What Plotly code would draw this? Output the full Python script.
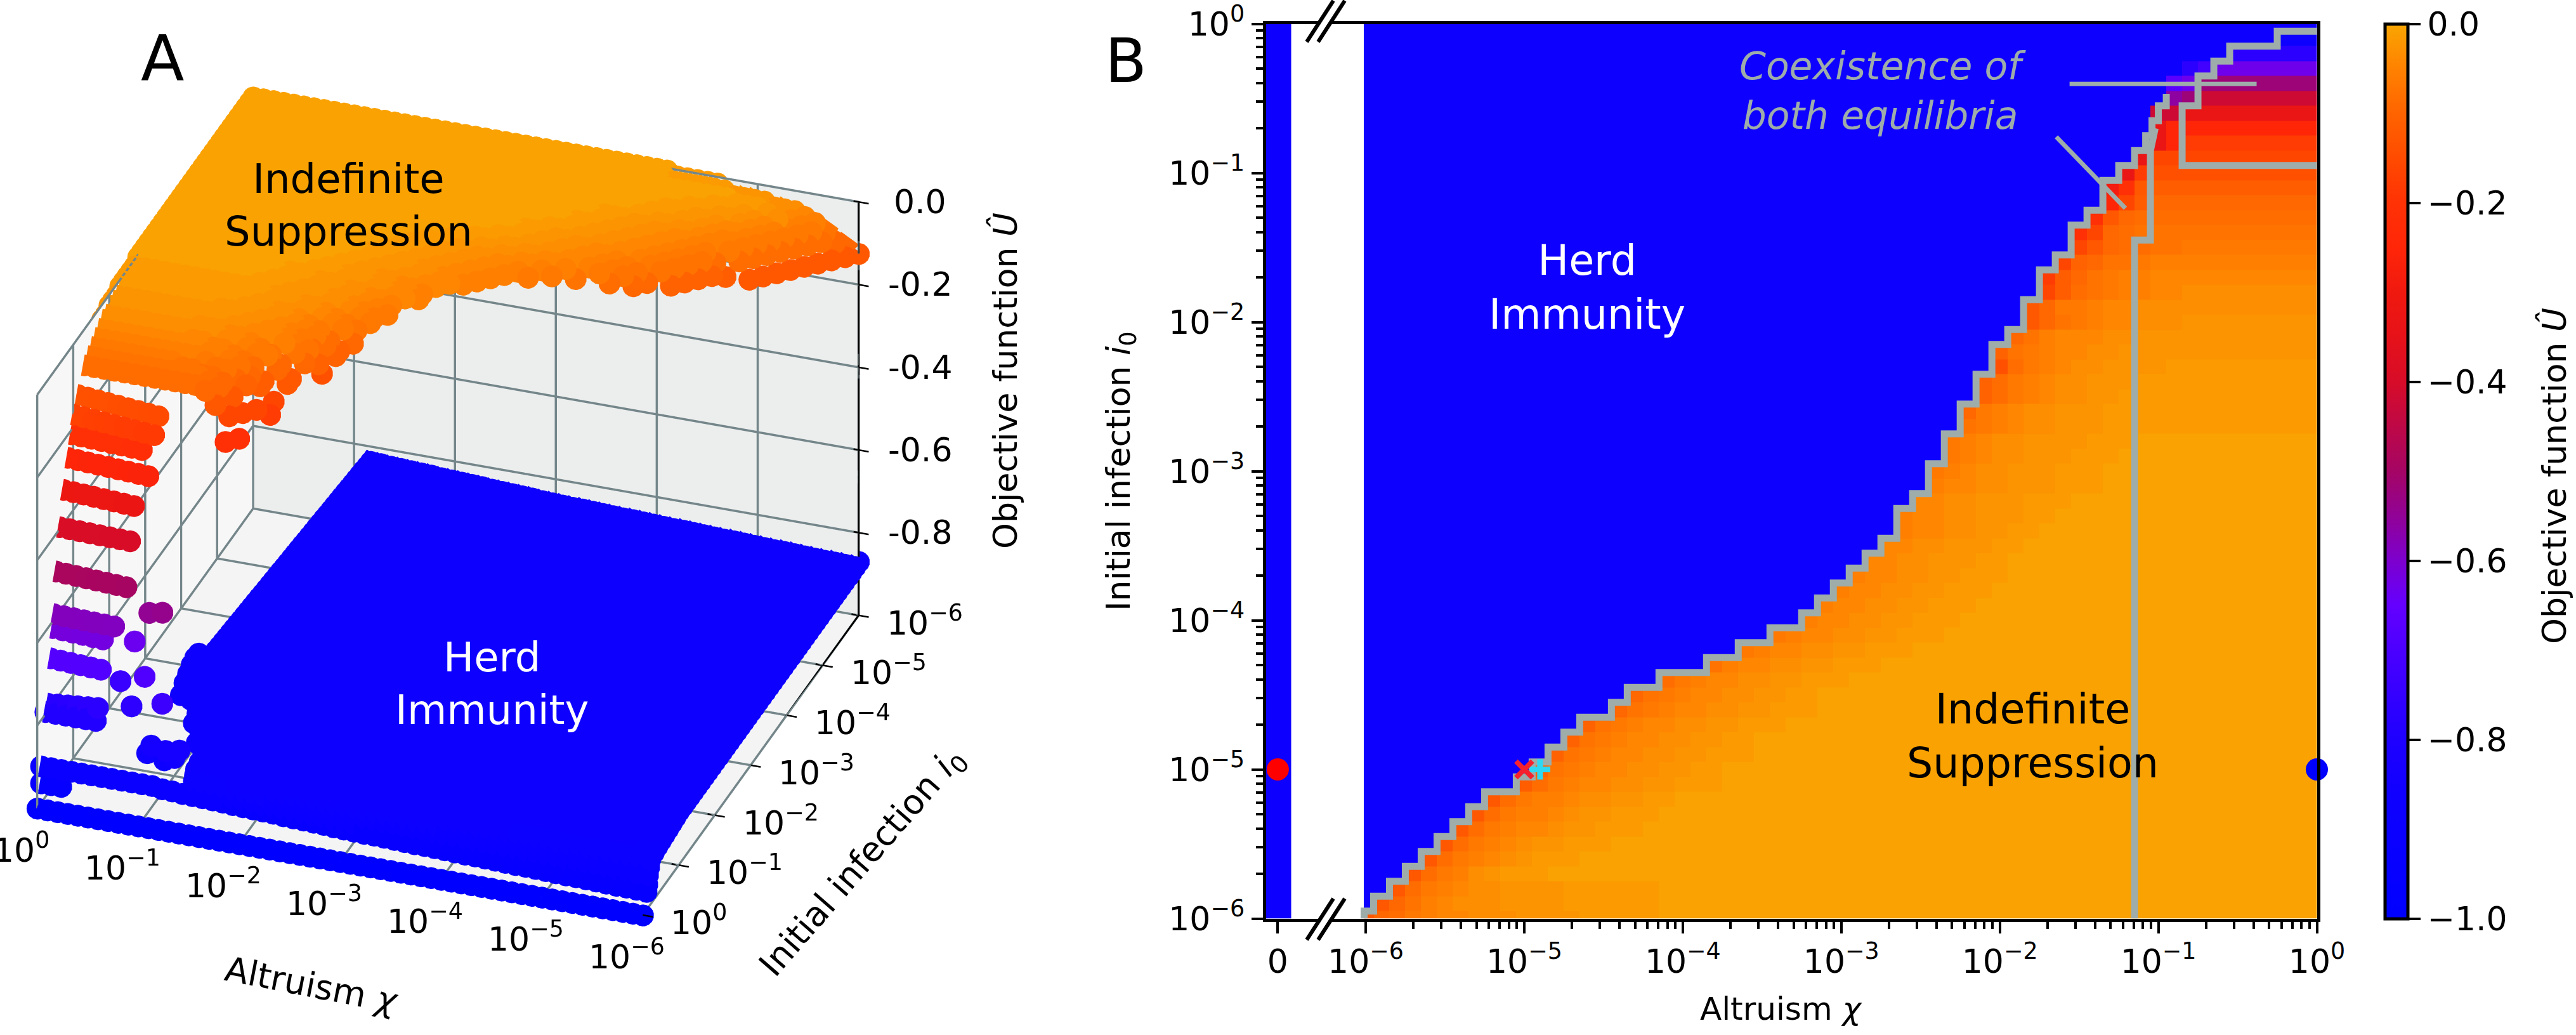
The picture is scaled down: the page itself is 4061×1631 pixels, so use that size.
import plotly.graph_objects as go

W, H = 4061, 1631
FONT = "DejaVu Sans"
GRID = "#74868a"
CONTOUR = "#9eacaa"

# Colour levels used by the objective-function table below.
LEVELS = {
    "0": -0.005, "1": -0.015, "2": -0.025, "3": -0.035, "4": -0.045, "5": -0.055,
    "6": -0.065, "7": -0.075, "8": -0.085, "9": -0.095, "a": -0.105, "b": -0.115,
    "c": -0.125, "d": -0.14, "e": -0.16, "f": -0.18, "g": -0.21, "h": -0.25,
    "i": -0.29, "j": -0.33, "k": -0.38, "l": -0.42, "m": -0.47, "n": -0.52,
    "o": -0.56, "p": -0.60, "q": -0.63, "r": -0.67, "s": -0.72, "t": -0.77,
    "u": -0.82, "#": -0.87,
}

# First column (altruism index, 0.1 decade steps) outside herd immunity, one per i0 row.
first_col = [0, 1, 2, 3, 4, 5, 6, 7, 8, 10, 11, 12, 13, 14, 16, 17, 19, 22, 24, 26, 28,
             29, 30, 31, 32, 33, 34, 34, 35, 36, 36, 37, 37, 38, 38, 39, 39, 40, 40, 41,
             42, 42, 43, 43, 44, 45, 45, 46, 47, 47, 48, 49, 50, 50, 50, 51, 51, 52, 55,
             58, 61]

# Levels from the boundary rightwards; the last code continues to the edge of the row.
row_codes = [
    "c98654433322221111100", "c97543332222111111000", "c86543322221111110", "c865321110",
    "c8654321110", "c86543221110",
    "c865443221110", "c8655432211100", "c8655433221100", "b8654433221110",
    "a765443322110", "a7654433221110", "a765443322110", "a76544332211100",
    "976544332211100", "97654433221100", "8654433221110", "7544332211100",
    "6544332211100", "6544332211100", "544332211100", "544332211100", "54433221110",
    "54433221110", "44332221100", "4433222110", "5443322110", "5443322211000",
    "44332221110", "544332221110", "6543322211100", "6543322211100", "6543322221110",
    "765433222111", "96543322211", "a8654332211", "a865433222111", "d86543322221",
    "a7654433222", "97544433222", "c97654433322", "c96654433333", "eb8765544333",
    "fb9765544444", "ea9776555555", "ec9887766666", "ge98777777", "gc9888888",
    "heb9999", "igcbbb", "jfdddd", "jeeee", "jhfff", "jhhhh", "lljjj", "onl", "rqn",
    "tsq", "t", "#", "#",
]

# Decade exponents.
decades = [-6, -5, -4, -3, -2, -1, 0]
minor_factors = [2, 3, 4, 5, 6, 7, 8, 9]
u_ticks = [-1.0, -0.8, -0.6, -0.4, -0.2, 0.0]
z_ticks = [-0.8, -0.6, -0.4, -0.2, 0.0]
z_tick_text = ["-0.8", "-0.6", "-0.4", "-0.2", "0.0"]

# Boundary of the suppression region, in grid indices (column, row).
edge_c = [-0.1, -0.1, .5, .5, 1.5, 1.5, 2.5, 2.5, 3.5, 3.5, 4.5, 4.5, 5.5, 5.5, 6.5, 6.5, 7.5, 7.5,
          9.5, 9.5, 10.5, 10.5, 11.5, 11.5, 12.5, 12.5, 13.5, 13.5, 15.5, 15.5, 16.5, 16.5, 18.5, 18.5,
          21.5, 21.5, 23.5, 23.5, 25.5, 25.5, 27.5, 27.5, 28.5, 28.5, 29.5, 29.5, 30.5, 30.5, 31.5, 31.5,
          32.5, 32.5, 33.5, 33.5, 34.5, 34.5, 35.5, 35.5, 36.5, 36.5, 37.5, 37.5, 38.5, 38.5, 39.5, 39.5,
          40.5, 40.5, 41.5, 41.5, 42.5, 42.5, 43.5, 43.5, 44.5, 44.5, 45.5, 45.5, 46.5, 46.5, 47.5, 47.5,
          48.5, 48.5, 49.2, 49.2, 49.6, 49.6, 50, 50, 50.5, 50.5]
edge_r = [0, .5, .5, 1.5, 1.5, 2.5, 2.5, 3.5, 3.5, 4.5, 4.5, 5.5, 5.5, 6.5, 6.5, 7.5, 7.5, 8.5,
          8.5, 9.5, 9.5, 10.5, 10.5, 11.5, 11.5, 12.5, 12.5, 13.5, 13.5, 14.5, 14.5, 15.5, 15.5, 16.5,
          16.5, 17.5, 17.5, 18.5, 18.5, 19.5, 19.5, 20.5, 20.5, 21.5, 21.5, 22.5, 22.5, 23.5, 23.5, 24.5,
          24.5, 25.5, 25.5, 27.5, 27.5, 28.5, 28.5, 30.5, 30.5, 32.5, 32.5, 34.5, 34.5, 36.5, 36.5, 38.5,
          38.5, 39.5, 39.5, 41.5, 41.5, 43.5, 43.5, 44.5, 44.5, 46.5, 46.5, 47.5, 47.5, 49.5, 49.5, 50.5,
          50.5, 51.5, 51.5, 52.5, 52.5, 53.5, 53.5, 54.5, 54.5, 55.3]
# Limit of the herd-immunity equilibrium.
herd_c = [48.5, 48.5, 49.5, 49.5, 49.8]
herd_r = [0, 45.5, 45.5, 51.5, 53.0]
# Limit of the suppressed equilibrium at large altruism.
supp_c = [60.2, 51.5, 51.5, 52.5, 52.5, 53.5, 53.5, 54.5, 54.5, 57.5, 57.5, 60.2]
supp_r = [50.5, 50.5, 54.5, 54.5, 56.5, 56.5, 57.5, 57.5, 58.5, 58.5, 59.5, 59.5]

# Leader lines of the coexistence note, as decade exponents.
leader_a_chi, leader_a_i0 = [-1.56, -0.38], [-0.403, -0.403]
leader_b_chi, leader_b_i0 = [-1.644, -1.208], [-0.758, -1.237]

# Equilibria marked in panel B, as decade exponents.
marker_i0 = -5.0
marker_cross_chi = -5.0
marker_plus_chi = -4.9

# Herd-immunity surface of panel A.
herd_level = -.87
herd_base = [-.87] * 51 + [-.872, -.874, -.876, -.878, -.88, -.882, -.885, -.89, -.955, -1.0]
herd_lift = [0, .001, .002, .002, .003, .004, .005, .006, .006, .007, .008, .009, .010, .010, .011,
             .012, .013, .014, .014, .015, .016, .017, .018, .018, .019, .020, .021, .022, .022,
             .023, .024, .025, .027, .028, .029, .030, .031, .033, .034, .035, .036, .037, .039,
             .040, .041, .042, .043, .045, .046, .050]
herd_gain = [1, 1.03, 1.06, 1.1, 1.13, 1.16, 1.19, 1.22, 1.26, 1.29, 1.32, 1.35, 1.38, 1.41, 1.45, 1.48,
             1.51, 1.54, 1.57, 1.6, 1.64, 1.67, 1.7, 1.73, 1.76, 1.79, 1.83, 1.86, 1.89, 1.92, 1.95,
             1.98, 2.02, 2.05, 2.08, 2.11, 2.14, 2.17, 2.21, 2.24, 2.27, 2.3, 2.33, 2.36, 2.4, 2.43, 2.46,
             2.5, 2.4, 2.2, 2.0, 1.7, 1.4, 1.2, 1.0, .9, .8, .6, .6, .9, 0]
herd_last = [48] * 46 + [49] * 6 + [47, 47, 46, 46, 45, 45, 45, 60, 60]

# Extra herd-immunity rows where the surface rolls down towards i0 = 1.
roll_i0 = [-.17, -.14, -.12]
roll_base = [-.905, -.92, -.94]
roll_gain = [.7, .8, .85]
roll_last = 45

# Rows of panel A at large initial infection: exponent of i0, height at chi=1,
# height at the far end of the row, and number of points.
seg_i0 = [-1.12, -1.0, -.94, -.84, -.72, -.61, -.51, -.45, -.42, -.36, -.28, -.22, -.1]
seg_z0 = [-.135, -.168, -.208, -.253, -.316, -.393, -.488, -.584, -.614, -.68, -.78, -.793, -.951]
seg_z1 = [-.152, -.183, -.216, -.263, -.325, -.397, -.496, -.588, -.62, -.686, -.769, -.793, -.951]
seg_n = [9, 9, 8, 9, 8, 8, 8, 7, 6, 6, 6, 6, 3]

# Isolated points of panel A near the end of those rows.
dot_chi = [-.93, -1.06, -.75, -.92, -.61, -.79, -1.13, -1.02, -.98, -1.15, -1.18, -1.3, -1.25]
dot_i0 = [-.5, -.5, -.6, -.4, -.6, -.4, -.3, -.3, -.3, -.3, -.25, -.3, -.3]
dot_z = [-.547, -.541, -.636, -.69, -.738, -.767, -.734, -.84, -.86, -.87, -.84, -.84, -.86]

colorscale_stops = [
    (-1.0, "rgb(0,0,255)"), (-.87, "rgb(14,0,255)"), (-.8, "rgb(30,0,255)"), (-.7, "rgb(75,0,255)"),
    (-.65, "rgb(100,0,255)"), (-.6, "rgb(125,0,205)"), (-.55, "rgb(145,2,150)"), (-.5, "rgb(165,5,100)"),
    (-.45, "rgb(190,8,70)"), (-.4, "rgb(215,12,40)"), (-.35, "rgb(230,18,25)"), (-.3, "rgb(240,25,15)"),
    (-.25, "rgb(255,38,8)"), (-.2, "rgb(255,50,5)"), (-.15, "rgb(255,75,0)"), (-.1, "rgb(255,100,0)"),
    (-.05, "rgb(255,130,0)"), (0.0, "rgb(249,166,2)"),
]
colorscale = [[(v + 1.0), c] for v, c in colorscale_stops]


def px(x):
    return x / W


def py(y):
    return 1 - y / H


# Objective function on the grid, rows from i0=1e-6 upward.
U = []
for f, codes in zip(first_col, row_codes):
    text = ("#" * f + codes).ljust(61, codes[-1])[:61]
    U.append([LEVELS[ch] for ch in text])

x_edges = [10 ** -6.012] + [10 ** (-5.95 + 0.1 * k) for k in range(60)] + [1.0]
y_edges = [1e-6] + [10 ** (-5.95 + 0.1 * k) for k in range(60)] + [1.0]

fig = go.Figure()

# ---- Panel B: the chi = 0 strip and the logarithmic part of the axis ----
fig.add_trace(go.Heatmap(x=[-0.905, 1.0], y=y_edges, z=[[herd_level]] * 61, coloraxis="coloraxis",
                         xaxis="x", yaxis="y", hoverinfo="skip"))
fig.add_trace(go.Heatmap(x=x_edges, y=y_edges, z=U, coloraxis="coloraxis",
                         xaxis="x2", yaxis="y2", hoverinfo="skip"))


def to_chi(cs):
    return [10 ** (-6 + 0.1 * c) for c in cs]


for cs, rs in [(edge_c, edge_r), (herd_c, herd_r), (supp_c, supp_r)]:
    fig.add_trace(go.Scatter(x=to_chi(cs), y=to_chi(rs), mode="lines", xaxis="x2", yaxis="y2",
                             line=dict(color=CONTOUR, width=11), hoverinfo="skip", showlegend=False))
for xs, ys in [(leader_a_chi, leader_a_i0), (leader_b_chi, leader_b_i0)]:
    fig.add_trace(go.Scatter(x=[10 ** v for v in xs], y=[10 ** v for v in ys], mode="lines",
                             xaxis="x2", yaxis="y2", line=dict(color=CONTOUR, width=7),
                             hoverinfo="skip", showlegend=False))

fig.add_trace(go.Scatter(x=[10 ** marker_plus_chi], y=[10 ** marker_i0], mode="markers", xaxis="x2", yaxis="y2",
                         marker=dict(symbol="cross-thin", size=23, line=dict(color="#2fd8f2", width=9)),
                         hoverinfo="skip", showlegend=False))
fig.add_trace(go.Scatter(x=[10 ** marker_cross_chi], y=[10 ** marker_i0], mode="markers", xaxis="x2", yaxis="y2",
                         marker=dict(symbol="x-thin", size=26, line=dict(color="#f5212d", width=8)),
                         hoverinfo="skip", showlegend=False))
fig.add_trace(go.Scatter(x=[1.0], y=[10 ** marker_i0], mode="markers", xaxis="x2", yaxis="y2", cliponaxis=False,
                         marker=dict(size=35, color="#0000ff"), hoverinfo="skip", showlegend=False))
fig.add_trace(go.Scatter(x=[0.0], y=[10 ** marker_i0], mode="markers", xaxis="x", yaxis="y", cliponaxis=False,
                         marker=dict(size=35, color="#ff0000"), hoverinfo="skip", showlegend=False))

# ---- Panel A: the two equilibria as a cloud of points ----
xs3, ys3, zs3, cs3 = [], [], [], []
for r in range(61):
    last = herd_last[r]
    for c in range(last + 1):
        xs3.append(10 ** (-6 + 0.1 * c))
        ys3.append(10 ** (-6 + 0.1 * r))
        z = herd_base[r] + herd_lift[min(c, 49)] * herd_gain[r]
        zs3.append(z)
        cs3.append(min(z, herd_level))
for e, base, gain in zip(roll_i0, roll_base, roll_gain):
    for c in range(roll_last + 1):
        xs3.append(10 ** (-6 + 0.1 * c))
        ys3.append(10 ** e)
        z = base + herd_lift[c] * gain
        zs3.append(z)
        cs3.append(min(z, herd_level))
for r in range(48):
    for c in range(first_col[r], 61):
        xs3.append(10 ** (-6 + 0.1 * c))
        ys3.append(10 ** (-6 + 0.1 * r))
        zs3.append(U[r][c])
        cs3.append(U[r][c])
for e, z0, z1, n in zip(seg_i0, seg_z0, seg_z1, seg_n):
    for k in range(n):
        z = z0 + (z1 - z0) * k / max(n - 1, 1)
        xs3.append(10 ** (-0.1 * k))
        ys3.append(10 ** e)
        zs3.append(z)
        cs3.append(z)
for a, b, z in zip(dot_chi, dot_i0, dot_z):
    xs3.append(10 ** a)
    ys3.append(10 ** b)
    zs3.append(z)
    cs3.append(z)

# The three back walls sit just behind the grid drawn on them.
WALL_CHI, WALL_I0, WALL_Z = 10 ** 0.01, 10 ** -6.01, -1.002
walls = [
    ("#f8f7f7", [WALL_CHI] * 4, [1e-6, 1.0, 1.0, 1e-6], [-1, -1, 0, 0]),
    ("#eceeed", [1e-6, 1.0, 1.0, 1e-6], [WALL_I0] * 4, [-1, -1, 0, 0]),
    ("#f4f4f4", [1e-6, 1.0, 1.0, 1e-6], [1e-6, 1e-6, 1.0, 1.0], [WALL_Z] * 4),
]
for colour, wx, wy, wz in walls:
    fig.add_trace(go.Mesh3d(x=wx, y=wy, z=wz, i=[0, 0], j=[1, 2], k=[2, 3], color=colour, flatshading=True,
                            lighting=dict(ambient=1, diffuse=0, specular=0, roughness=1, fresnel=0),
                            hoverinfo="skip", showscale=False, scene="scene"))

gx, gy, gz = [], [], []
tx, ty, tz = [], [], []


def seg3(store, p, q):
    store[0].extend([p[0], q[0], None])
    store[1].extend([p[1], q[1], None])
    store[2].extend([p[2], q[2], None])


grid = (gx, gy, gz)
for d in decades:
    v = 10.0 ** d
    seg3(grid, (v, 1e-6, -1), (v, 1e-6, 0))      # back wall, verticals
    seg3(grid, (1.0, v, -1), (1.0, v, 0))        # side wall, verticals
    seg3(grid, (v, 1e-6, -1), (v, 1.0, -1))      # floor
    seg3(grid, (1e-6, v, -1), (1.0, v, -1))      # floor
for z in z_ticks:
    seg3(grid, (1e-6, 1e-6, z), (1.0, 1e-6, z))
    seg3(grid, (1.0, 1e-6, z), (1.0, 1.0, z))

# Tick marks straddle the right-hand edges of the box.
ticks3 = (tx, ty, tz)
for z in z_ticks:
    seg3(ticks3, (10 ** -5.95, 1e-6, z), (10 ** -6.1, 1e-6, z))
for d in decades:
    seg3(ticks3, (10 ** -5.93, 10.0 ** d, -1), (10 ** -6.1, 10.0 ** d, -1))

fig.add_trace(go.Scatter3d(x=gx, y=gy, z=gz, mode="lines", scene="scene", line=dict(color=GRID, width=7),
                           hoverinfo="skip", showlegend=False))
fig.add_trace(go.Scatter3d(x=tx, y=ty, z=tz, mode="lines", scene="scene", line=dict(color="black", width=5),
                           hoverinfo="skip", showlegend=False))
fig.add_trace(go.Scatter3d(x=[1e-6, 1e-6, 1e-6], y=[1e-6, 1e-6, 1.0], z=[0, -1, -1], mode="lines", scene="scene",
                           line=dict(color="black", width=6), hoverinfo="skip", showlegend=False))
fig.add_trace(go.Scatter3d(x=xs3, y=ys3, z=zs3, mode="markers", scene="scene",
                           marker=dict(size=20, color=cs3, coloraxis="coloraxis", line=dict(width=0), opacity=1),
                           hoverinfo="skip", showlegend=False))


def scene_axis(**kw):
    base = dict(showgrid=False, zeroline=False, showspikes=False, showbackground=False, title=dict(text=""),
                showline=False, ticks="", showticklabels=False)
    base.update(kw)
    return base


def pow_label(d):
    return "10<sup>%s</sup>" % (str(d).replace("-", "\u2212"))


# Tick labels of panel A are anchored to the scene's own data coordinates
# (range units: decades on the logarithmic axes).
scene_notes = []
tick_font = dict(family=FONT, size=52, color="black")
for d in decades:
    scene_notes.append(dict(x=d, y=0, z=-1, text=pow_label(d), showarrow=False, font=tick_font,
                            xanchor="center", yanchor="middle", xshift=-25, yshift=-62))
    scene_notes.append(dict(x=-6, y=d, z=-1, text=pow_label(d), showarrow=False, font=tick_font,
                            xanchor="left", yanchor="middle", xshift=42, yshift=-8))
for z, label in zip(z_ticks, z_tick_text):
    scene_notes.append(dict(x=-6, y=-6, z=z, text=label, showarrow=False, font=tick_font,
                            xanchor="center", yanchor="middle", xshift=97, yshift=0))

fig.update_layout(
    width=W, height=H, autosize=False, margin=dict(l=0, r=0, t=0, b=0, autoexpand=False),
    paper_bgcolor="white", plot_bgcolor="white", showlegend=False,
    font=dict(family=FONT, size=52, color="black"),
    coloraxis=dict(
        cmin=-1, cmax=0, colorscale=colorscale,
        colorbar=dict(
            x=px(3760), xanchor="left", y=py(1447.5), yanchor="bottom",
            lenmode="fraction", len=(1447.5 - 37.5) / H, thicknessmode="pixels", thickness=36,
            xpad=0, ypad=0, outlinewidth=5, outlinecolor="black", ticks="outside", ticklen=18, tickwidth=4,
            tickcolor="black", tickvals=u_ticks, tickformat=".1f", tickfont=dict(family=FONT, size=52),
        ),
    ),
    xaxis=dict(domain=[px(1995.5), px(2080)], range=[-0.905, 3.143], anchor="y", showline=True, linewidth=5,
               linecolor="black", mirror=True, ticks="outside", ticklen=18, tickwidth=4, tickcolor="black",
               tickvals=[0], ticktext=["0"], showgrid=False, zeroline=False, tickfont=dict(family=FONT, size=52)),
    xaxis2=dict(domain=[px(2097), px(3652.5)], type="log", range=[-6.224, 0], anchor="y2", showline=True, linewidth=5,
                linecolor="black", mirror=True, ticks="outside", ticklen=18, tickwidth=4, tickcolor="black",
                tickvals=[10.0 ** d for d in decades], showgrid=False, zeroline=False,
                ticklabeloverflow="allow", ticktext=[pow_label(d) for d in decades], tickfont=dict(family=FONT, size=52),
                minor=dict(ticks="outside", ticklen=11, tickwidth=3.5, tickcolor="black", showgrid=False,
                           tickmode="array",
                           tickvals=[f * 10.0 ** d for d in decades[:-1] for f in minor_factors])),
    yaxis=dict(domain=[py(1447.5), py(37.5)], type="log", range=[-6, 0], anchor="x", showline=True, linewidth=5,
               linecolor="black", ticks="outside", ticklen=18, tickwidth=4, tickcolor="black",
               tickvals=[10.0 ** d for d in decades], ticktext=[pow_label(d) for d in decades],
               ticklabeloverflow="allow", showgrid=False, zeroline=False, tickfont=dict(family=FONT, size=52),
               title=dict(text="Initial infection <i>i</i><sub>0</sub>", font=dict(family=FONT, size=52), standoff=46),
               minor=dict(ticks="outside", ticklen=11, tickwidth=3.5, tickcolor="black", showgrid=False,
                          tickmode="array",
                          tickvals=[f * 10.0 ** d for d in decades[:-1] for f in minor_factors])),
    yaxis2=dict(domain=[py(1447.5), py(37.5)], type="log", range=[-6, 0], anchor="x2", side="right", showline=True,
                linewidth=5, linecolor="black", ticks="", showticklabels=False, showgrid=False, zeroline=False),
    scene=dict(
        domain=dict(x=[0, px(1425)], y=[py(1596), 1]),
        aspectmode="manual", aspectratio=dict(x=1.2954, y=1.2785, z=0.9423),
        camera=dict(projection=dict(type="orthographic"), up=dict(x=0, y=0, z=1), center=dict(x=0, y=0, z=0),
                    eye=dict(x=-0.292 * 2.5, y=0.819 * 2.5, z=0.495 * 2.5)),
        bgcolor="rgba(0,0,0,0)",
        annotations=scene_notes,
        xaxis=scene_axis(type="log", range=[-6.1, 0.02]),
        yaxis=scene_axis(type="log", range=[-6.02, 0.02]),
        zaxis=scene_axis(range=[-1.003, 0]),
    ),
)


def note(text, x, y, size=62, color="black", angle=0, italic=False):
    body = "<i>%s</i>" % text.replace("<br>", "</i><br><i>") if italic else text
    fig.add_annotation(text=body, x=px(x), y=py(y), xref="paper", yref="paper", xanchor="center", yanchor="middle",
                       showarrow=False, textangle=angle, font=dict(family=FONT, size=size, color=color))


note("A", 256, 93, size=100)
note("B", 1775, 96, size=96)
note("Indefinite<br>Suppression", 549, 324, size=64)
note("Herd<br>Immunity", 775, 1077, size=64, color="white")
note("Herd<br>Immunity", 2502, 453, size=65, color="white")
note("Indefinite<br>Suppression", 3204, 1160, size=65)
note("Coexistence of<br>both equilibria", 2968, 143, size=60, color=CONTOUR, italic=True)
note("Altruism <i>\u03c7</i>", 2808, 1590, size=50)
note("Altruism <i>\u03c7</i>", 491, 1552, size=54, angle=11)
note("Initial infection <i>i</i><sub>0</sub>", 1360, 1360, size=54, angle=-49)
note("Objective function <i>\u00db</i>", 1585, 600, size=52, angle=-90)
note("Objective function <i>\u00db</i>", 4027, 750, size=52, angle=-90)

# Axis-break marks on the top and bottom spines of panel B.
for dy in (0, -1415):
    for dx in (0, 18):
        fig.add_shape(type="line", xref="paper", yref="paper", x0=px(2060 + dx), x1=px(2102 + dx),
                      y0=py(1481 + dy), y1=py(1416 + dy), line=dict(color="black", width=6))

fig.write_html("out.html")
